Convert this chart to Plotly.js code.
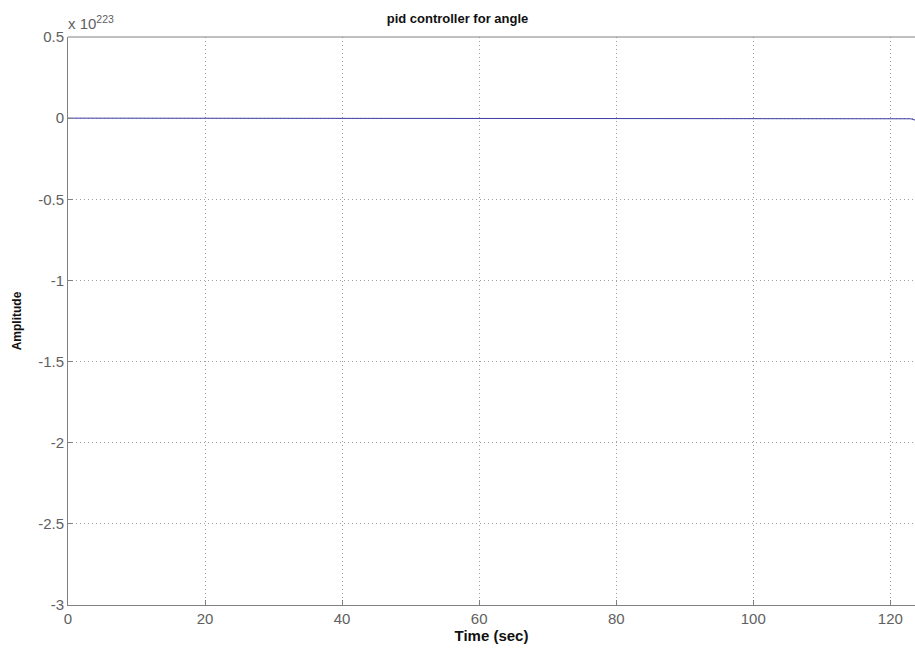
<!DOCTYPE html>
<html>
<head>
<meta charset="utf-8">
<script src="https://cdn.plot.ly/plotly-3.0.1.min.js"></script>
<style>html,body{margin:0;padding:0;background:#fff;}#chart{width:915px;height:649px;}</style>
</head>
<body>
<div id="chart"></div>
<script>
// Step response, amplitude in units of 10^223
const time = [0, 10, 20, 30, 40, 50, 60, 70, 80, 90, 100, 110, 120, 122, 123, 123.6];
const amplitude = [0, 0, 0, 0, 0, 0, 0, 0, 0, 0, 0, 0, 0, -0.001, -0.004, -0.012];
const xTickVals = [0, 20, 40, 60, 80, 100, 120];
const xTickText = ['0', '20', '40', '60', '80', '100', '120'];
const yTickVals = [-3, -2.5, -2, -1.5, -1, -0.5, 0, 0.5];
const yTickText = ['-3', '-2.5', '-2', '-1.5', '-1', '-0.5', '0', '0.5'];

const font = 'Liberation Sans, Arial, Helvetica, sans-serif';
const trace = {
  x: time, y: amplitude, type: 'scatter', mode: 'lines',
  line: {color: '#3c3ca4', width: 1}, hoverinfo: 'none'
};
const gridStyle = {showgrid: true, gridcolor: '#a0a0a0', griddash: '1px,3px', gridwidth: 1};
const layout = {
  width: 915, height: 649,
  margin: {l: 68, r: 0, t: 37, b: 44},
  paper_bgcolor: '#fff', plot_bgcolor: '#fff',
  showlegend: false,
  title: {text: 'pid controller for angle', font: {family: font, size: 13, color: '#111', weight: 'bold'}, x: 0.5, xanchor: 'center', y: 0.972, yanchor: 'middle'},
  xaxis: Object.assign({
    range: [0, 123.6], tickvals: xTickVals, ticktext: xTickText,
    ticks: 'inside', ticklen: 5, tickcolor: '#808080', tickwidth: 1,
    showline: true, linecolor: '#808080', linewidth: 1,
    zeroline: false,
    tickfont: {family: font, size: 15, color: '#606060'},
    title: {text: 'Time (sec)', font: {family: font, size: 15, color: '#111', weight: 'bold'}, standoff: 3}
  }, gridStyle),
  yaxis: Object.assign({
    range: [-3, 0.5], tickvals: yTickVals, ticktext: yTickText,
    ticks: 'inside', ticklen: 5, tickcolor: '#808080', tickwidth: 1,
    showline: true, linecolor: '#808080', linewidth: 1,
    zeroline: false,
    tickfont: {family: font, size: 15, color: '#606060'},
    title: {text: 'Amplitude', font: {family: font, size: 12, color: '#111', weight: 'bold'}, standoff: 13}
  }, gridStyle),
  shapes: [
    {type: 'line', xref: 'paper', yref: 'paper', x0: 0, x1: 1, y0: 1, y1: 1, line: {color: '#808080', width: 1}}
  ],
  annotations: [
    {text: 'x 10<sup>223</sup>', xref: 'paper', yref: 'paper', x: 0, y: 1, xanchor: 'left', yanchor: 'bottom', xshift: -2, yshift: 3, showarrow: false, font: {family: font, size: 15, color: '#606060'}}
  ]
};
Plotly.newPlot('chart', [trace], layout, {displayModeBar: false, staticPlot: true});
</script>
</body>
</html>
